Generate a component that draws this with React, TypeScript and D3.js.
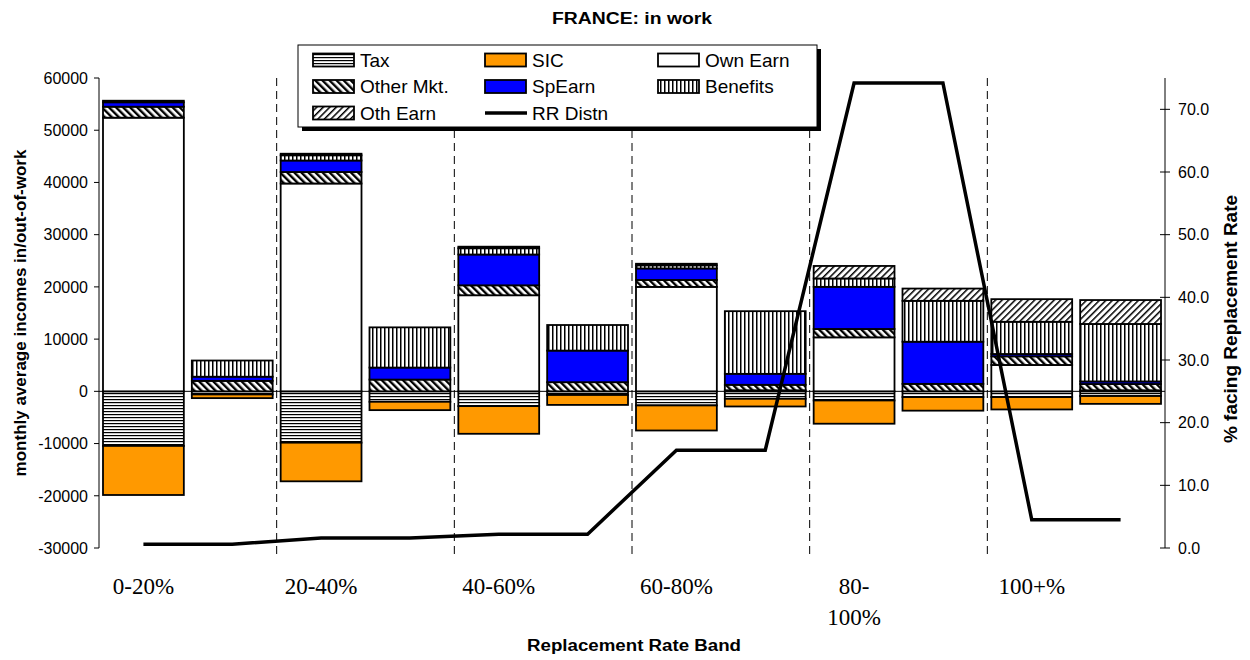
import React from 'react';
import * as d3 from 'd3';

// replacement rate bands, each has an in-work and an out-of-work bar
const bandLabels = ['0-20%', '20-40%', '40-60%', '60-80%', '80-100%', '100+%'];
const barIds = bandLabels.flatMap(b => [`${b} in`, `${b} out`]);

const seriesKeys = ['Tax', 'SIC', 'Own Earn', 'Other Mkt.', 'SpEarn', 'Benefits', 'Oth Earn'];

const tax = [-10450, -600, -9830, -2000, -2830, -700, -2700, -1430, -1750, -1100, -1100, -900];
const sic = [-9400, -700, -7400, -1600, -5300, -1900, -4800, -1470, -4450, -2600, -2370, -1500];
const ownEarn = [52400, 0, 39800, 0, 18400, 0, 20000, 200, 10340, 0, 5050, 200];
const otherMkt = [2100, 2000, 2200, 2250, 1900, 1750, 1330, 1050, 1600, 1430, 1650, 1200];
const spEarn = [850, 800, 2200, 2300, 5900, 6050, 2200, 2100, 8070, 8070, 450, 500];
const benefits = [300, 3100, 1000, 7700, 1200, 4900, 600, 12000, 1600, 7830, 6170, 11000];
const othEarn = [0, 0, 300, 0, 300, 0, 300, 0, 2400, 2350, 4330, 4580];

// % facing replacement rate (right axis)
const rrDistn = [0.6, 0.6, 1.6, 1.6, 2.2, 2.2, 15.6, 15.6, 74.2, 74.2, 4.5, 4.5];

const leftTicks = [-30000, -20000, -10000, 0, 10000, 20000, 30000, 40000, 50000, 60000];
const rightTicks = [0, 10, 20, 30, 40, 50, 60, 70];

const fills: Record<string, string> = {
  'Tax': 'url(#pTax)',
  'SIC': '#FF9900',
  'Own Earn': '#FFFFFF',
  'Other Mkt.': 'url(#pOther)',
  'SpEarn': '#0000FF',
  'Benefits': 'url(#pBen)',
  'Oth Earn': 'url(#pOth)',
};

const SANS = 'Liberation Sans, Arial, sans-serif';
const SERIF = 'Liberation Serif, Times New Roman, serif';

const App: React.FC = () => {
  const width = 1250;
  const height = 660;
  const plot = { left: 99, right: 1165, top: 78, bottom: 548 };

  const rows = barIds.map((id, i) => ({
    id,
    'Tax': tax[i],
    'SIC': sic[i],
    'Own Earn': ownEarn[i],
    'Other Mkt.': otherMkt[i],
    'SpEarn': spEarn[i],
    'Benefits': benefits[i],
    'Oth Earn': othEarn[i],
  }));

  const stacked = d3.stack<any>().keys(seriesKeys).offset(d3.stackOffsetDiverging)(rows);

  const x = d3.scaleBand<string>().domain(barIds).range([plot.left, plot.right])
    .paddingInner(0.09).paddingOuter(0.045);
  const y = d3.scaleLinear().domain([-30000, 60000]).range([plot.bottom, plot.top]);
  const y2 = d3.scaleLinear().domain([0, 75]).range([plot.bottom, plot.top]);

  const step = x.step();
  const bw = x.bandwidth();
  const cx = (id: string) => (x(id) as number) + bw / 2;

  const line = d3.line<number>()
    .x((_, i) => cx(barIds[i]))
    .y(d => y2(d));

  const dividers = d3.range(1, bandLabels.length).map(k => plot.left + k * 2 * step);

  const legendItems = [
    ['Tax', 'SIC', 'Own Earn'],
    ['Other Mkt.', 'SpEarn', 'Benefits'],
    ['Oth Earn', 'RR Distn'],
  ];
  const legCols = [313, 485, 658];
  const legRows = [60, 86.5, 113];

  return (
    <svg width={width} height={height} style={{ position: 'absolute', left: 0, top: 0, background: '#fff' }}>
      <defs>
        <pattern id="pTax" width="4" height="3" patternUnits="userSpaceOnUse">
          <rect width="4" height="3" fill="#fff" />
          <rect width="4" height="1.2" fill="#000" />
        </pattern>
        <pattern id="pOther" width="5" height="5" patternUnits="userSpaceOnUse" patternTransform="rotate(-45)">
          <rect width="5" height="5" fill="#fff" />
          <rect width="2.4" height="5" fill="#000" />
        </pattern>
        <pattern id="pOth" width="4.6" height="4.6" patternUnits="userSpaceOnUse" patternTransform="rotate(45)">
          <rect width="4.6" height="4.6" fill="#fff" />
          <rect width="1.5" height="4.6" fill="#000" />
        </pattern>
        <pattern id="pBen" width="4" height="4" patternUnits="userSpaceOnUse">
          <rect width="4" height="4" fill="#fff" />
          <rect width="1.5" height="4" fill="#000" />
        </pattern>
      </defs>

      {/* title */}
      <text x={632} y={24} textAnchor="middle" fontFamily={SANS} fontWeight="bold" fontSize={16}
        textLength={160} lengthAdjust="spacingAndGlyphs">
        FRANCE: in work
      </text>

      {/* zero line */}
      <line x1={plot.left} x2={plot.right} y1={y(0)} y2={y(0)} stroke="#000" strokeWidth={1} />

      {/* dashed band dividers */}
      {dividers.map((dx, i) => (
        <line key={i} x1={dx} x2={dx} y1={plot.top} y2={plot.bottom + 6}
          stroke="#000" strokeWidth={1} strokeDasharray="8,5" />
      ))}

      {/* stacked bars */}
      {stacked.map(s => (
        <g key={s.key}>
          {s.map((d, i) => {
            const y0 = y(Math.max(d[0], d[1]));
            const y1 = y(Math.min(d[0], d[1]));
            if (y1 - y0 < 0.01) return null;
            return (
              <rect key={i} x={x(barIds[i])} y={y0} width={bw} height={y1 - y0}
                fill={fills[s.key]} stroke="#000" strokeWidth={1.8} />
            );
          })}
        </g>
      ))}

      {/* RR distribution line */}
      <path d={line(rrDistn) || ''} fill="none" stroke="#000" strokeWidth={3.5} strokeLinejoin="miter" />

      {/* left axis */}
      <line x1={plot.left} x2={plot.left} y1={plot.top} y2={plot.bottom} stroke="#000" />
      {leftTicks.map(t => (
        <g key={t}>
          <line x1={plot.left - 5} x2={plot.left} y1={y(t)} y2={y(t)} stroke="#000" />
          <text x={plot.left - 11} y={y(t)} dy="0.36em" textAnchor="end" fontFamily={SANS} fontSize={16}>
            {t}
          </text>
        </g>
      ))}

      {/* right axis */}
      <line x1={plot.right} x2={plot.right} y1={plot.top} y2={plot.bottom} stroke="#000" />
      {rightTicks.map(t => (
        <g key={t}>
          <line x1={plot.right - 5} x2={plot.right + 5} y1={y2(t)} y2={y2(t)} stroke="#000" />
          <text x={plot.right + 13} y={y2(t)} dy="0.36em" textAnchor="start" fontFamily={SANS} fontSize={16}>
            {t.toFixed(1)}
          </text>
        </g>
      ))}

      {/* band labels */}
      {bandLabels.map((b, i) => {
        const lines = b.length > 6 ? [b.slice(0, b.indexOf('-') + 1), b.slice(b.indexOf('-') + 1)] : [b];
        return (
          <text key={b} x={cx(barIds[i * 2])} y={594} textAnchor="middle" fontFamily={SERIF} fontSize={23}>
            {lines.map((l, j) => (
              <tspan key={j} x={cx(barIds[i * 2])} dy={j === 0 ? 0 : 31}>{l}</tspan>
            ))}
          </text>
        );
      })}

      {/* axis titles */}
      <text x={634} y={651} textAnchor="middle" fontFamily={SANS} fontWeight="bold" fontSize={16}
        textLength={214} lengthAdjust="spacingAndGlyphs">
        Replacement Rate Band
      </text>
      <text transform={`translate(26,${(plot.top + plot.bottom) / 2}) rotate(-90)`} textAnchor="middle"
        fontFamily={SANS} fontWeight="bold" fontSize={17}>
        monthly average incomes in/out-of-work
      </text>
      <text transform={`translate(1237,${(plot.top + plot.bottom) / 2 + 6}) rotate(-90)`} textAnchor="middle"
        fontFamily={SANS} fontWeight="bold" fontSize={19}>
        % facing Replacement Rate
      </text>

      {/* legend */}
      <rect x={302} y={49} width={519} height={82} fill="#000" />
      <rect x={298} y={45} width={519} height={82} fill="#fff" stroke="#000" strokeWidth={1} />
      {legendItems.map((row, r) => row.map((name, c) => {
        const lx = legCols[c];
        const ly = legRows[r];
        return (
          <g key={name}>
            {name === 'RR Distn'
              ? <line x1={lx} x2={lx + 42} y1={ly} y2={ly} stroke="#000" strokeWidth={3.5} />
              : <rect x={lx} y={ly - 6.5} width={41} height={13} fill={fills[name]} stroke="#000" strokeWidth={1.8} />}
            <text x={lx + 47} y={ly} dy="0.36em" fontFamily={SANS} fontSize={19}>{name}</text>
          </g>
        );
      }))}
    </svg>
  );
};

export default App;
